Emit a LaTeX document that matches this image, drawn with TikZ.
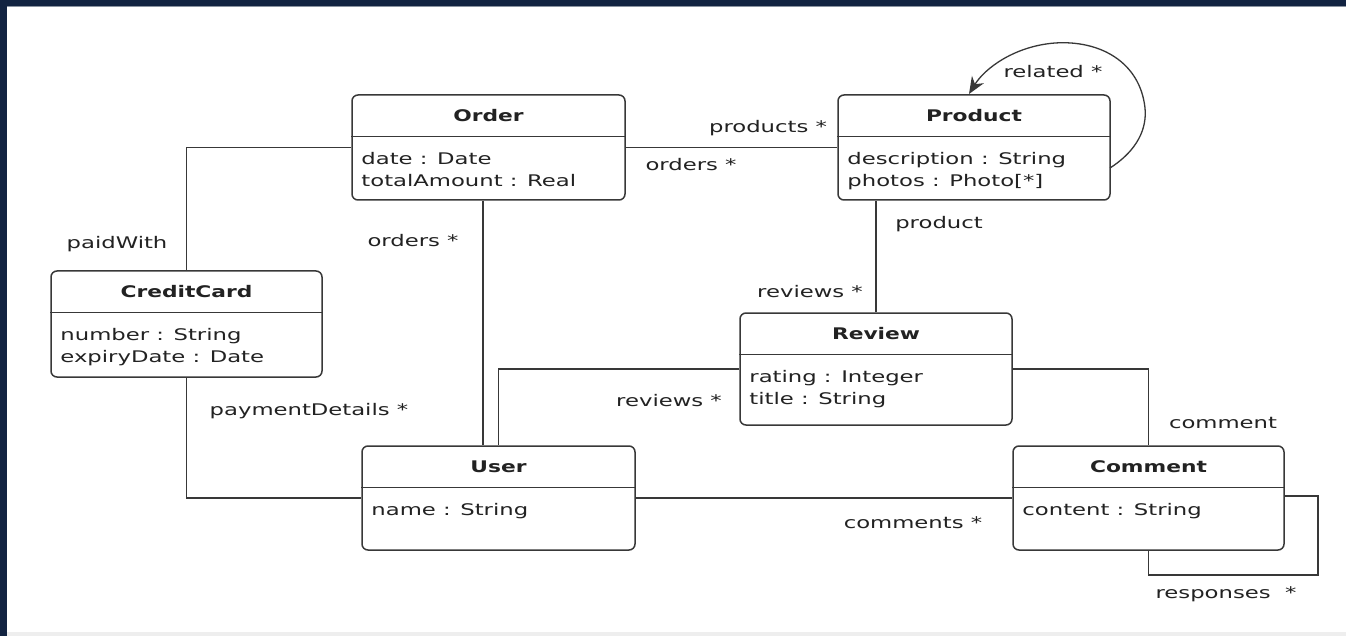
\documentclass[tikz,border=0pt]{standalone}
\usepackage{fontspec}
\setmainfont{DejaVu Sans}[FakeStretch=1.42, BoldFeatures={FakeStretch=1.36}]
\usetikzlibrary{arrows.meta}

\definecolor{framenavy}{HTML}{122341}
\definecolor{framegrey}{HTML}{8A93A0}
\definecolor{footgrey}{HTML}{EEEEEE}
\definecolor{linec}{HTML}{383838}
\definecolor{textc}{HTML}{222222}

\newcommand\umlsize{\fontsize{16}{22}\selectfont}

\tikzset{
  classbox/.style={draw=linec, line width=1.5pt, rounded corners=6pt, fill=white, inner sep=0pt},
  divider/.style={draw=linec, line width=1.3pt},
  titletext/.style={font=\umlsize\bfseries, text=textc, inner sep=0pt, anchor=base},
  attrtext/.style={font=\umlsize, text=textc, inner sep=0pt, anchor=base west},
  lbl/.style={font=\umlsize, text=textc, inner sep=0pt, anchor=base},
  assoc/.style={draw=linec, line width=1.3pt},
}

% a UML class: name, centre x, centre y, width, height, title, attribute list
\newcommand\umlclass[7]{%
  \node[classbox, minimum width=#4pt, minimum height=#5pt] (#1) at (#2,#3) {};
  \draw[divider] ([yshift=-42pt]#1.north west) -- ([yshift=-42pt]#1.north east);
  \node[titletext] (#1-title) at ([yshift=-27pt]#1.north) {#6};
  \foreach \a [count=\i] in {#7}
    \node[attrtext] (#1-a\i) at ([xshift=10pt, yshift={(-70-22*(\i-1))*1pt}]#1.north west) {\a};
}

\begin{document}
\begin{tikzpicture}[x=1pt, y=-1pt, font=\umlsize]
  % window frame
  \fill[framenavy] (0,0) rectangle (1346,636);
  \fill[framegrey] (7,6) rectangle (1346,7.5);
  \fill[white] (7,7.5) rectangle (1346,632);
  \fill[footgrey] (7,632) rectangle (1346,636);
  \useasboundingbox (0,0) rectangle (1346,636);

  % classes
  \umlclass{order}{488.5}{147.5}{273}{105}{Order}{{date : Date},{totalAmount : Real}}
  \umlclass{product}{974}{147.5}{272}{105}{Product}{{description : String},{photos : Photo[*]}}
  \umlclass{card}{186.5}{324}{271}{106}{CreditCard}{{number : String},{expiryDate : Date}}
  \umlclass{review}{876}{369}{272}{112}{Review}{{rating : Integer},{title : String}}
  \umlclass{user}{498.5}{498}{273}{104}{User}{{name : String}}
  \umlclass{comment}{1148.5}{498}{271}{104}{Comment}{{content : String}}

  % associations
  \draw[assoc] (order.east) -- (product.west);
  \draw[assoc] (order.west) -| (card.north);
  \draw[assoc] (card.south) |- (user.west);
  \draw[assoc] ([xshift=-5.5pt]order.south) -- ([xshift=-5.5pt]order.south |- user.north);
  \draw[assoc] (review.west) -| (user.north);
  \draw[assoc] (review.north) -- (review.north |- product.south);
  \draw[assoc] (review.east) -| (comment.north);
  \draw[assoc] (user.east) -- (comment.west);

  % self association of Comment
  \coordinate (respCorner) at (1318,575);
  \draw[assoc] ([yshift=2pt]comment.east) -| (respCorner) -| (comment.south);

  % self association of Product
  \coordinate (relStart) at (1110,168);
  \coordinate (relEnd) at (969,94);
  \draw[assoc, -{Stealth[length=17pt, width=14pt]}] (relStart)
     .. controls (1138,150) and (1147,128) .. (1145,108)
     .. controls (1140,62) and (1100,40) .. (1055,43)
     .. controls (1015,46) and (985,68) .. (relEnd);

  % role names
  \node[lbl] (l-products) at (768,133) {products *};
  \node[lbl] (l-orders1) at (691,171) {orders *};
  \node[lbl] (l-related) at (1053,78) {related *};
  \node[lbl] (l-product) at (939,229) {product};
  \node[lbl] (l-reviews1) at (810,298) {reviews *};
  \node[lbl] (l-paid) at (117,249) {paidWith};
  \node[lbl] (l-orders2) at (413,247) {orders *};
  \node[lbl] (l-payment) at (309,415) {paymentDetails *};
  \node[lbl] (l-reviews2) at (669,406) {reviews *};
  \node[lbl] (l-comment) at (1223,428) {comment};
  \node[lbl] (l-comments) at (913,528) {comments *};
  \node[lbl] (l-responses) at (1226,598) {responses\hspace{0.9em}*};
\end{tikzpicture}
\end{document}
